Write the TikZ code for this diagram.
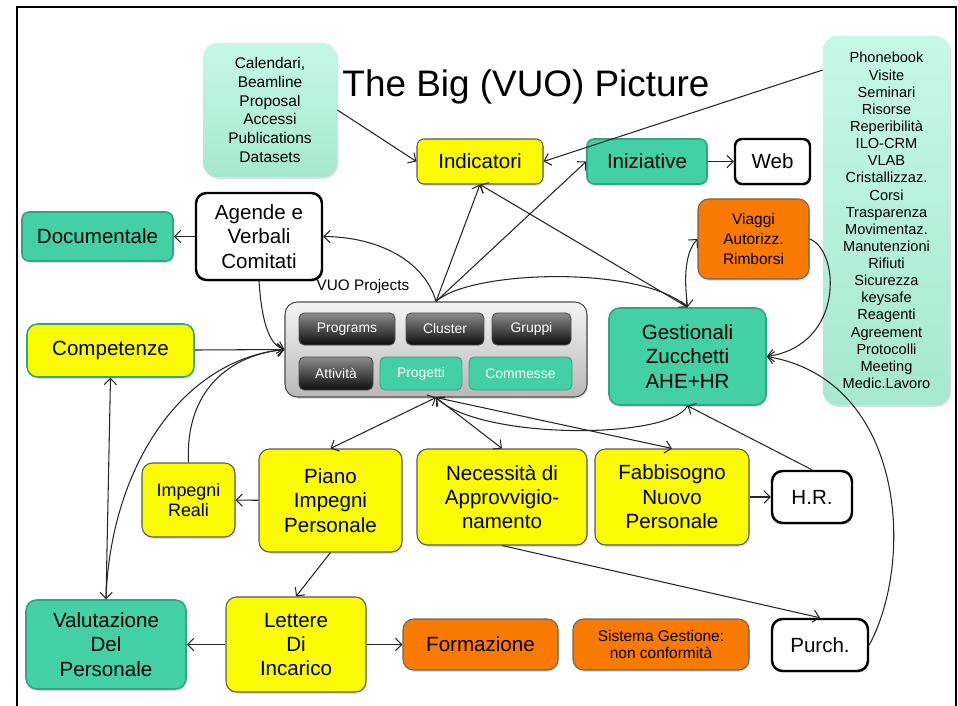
\documentclass[tikz,border=0pt]{standalone}
\usepackage{fontspec}
\setmainfont{Liberation Sans}
\usetikzlibrary{arrows.meta, shadows}
\definecolor{vyellow}{RGB}{250,250,0}
\definecolor{vgreen}{RGB}{66,208,164}
\definecolor{vgreenline}{RGB}{50,165,128}
\definecolor{vorange}{RGB}{249,122,0}
\definecolor{vmintA}{RGB}{198,248,231}
\definecolor{vmintB}{RGB}{166,232,208}

\tikzset{
  sz/.style 2 args={minimum width=#1*0.02cm, minimum height=#2*0.02cm},
  basebox/.style={rounded corners=6pt, align=center, inner sep=1pt,
        font=\fontsize{11.7}{13.9}\selectfont,
        drop shadow={opacity=0.25, shadow xshift=0.6pt, shadow yshift=-1pt}},
  ybox/.style={basebox, fill=vyellow, draw=black!65, line width=0.6pt},
  gbox/.style={basebox, fill=vgreen, draw=vgreenline, line width=0.9pt},
  obox/.style={basebox, fill=vorange, draw=black!60, line width=0.6pt},
  wbox/.style={basebox, fill=white, draw=black, line width=1.4pt},
  mbox/.style={basebox, top color=vmintA, bottom color=vmintB, draw=none,
        rounded corners=8pt},
  btn/.style={rounded corners=3pt, align=center, draw=black!70, line width=0.5pt,
        top color=black!45, bottom color=black!95, text=white,
        font=\fontsize{7.9}{9}\selectfont},
  gbtn/.style={btn, top color=vgreen, bottom color=vgreen, draw=vgreenline},
  link/.style={line width=0.6pt, black!85}
}

\begin{document}
\begin{tikzpicture}[x=0.02cm, y=-0.02cm, >={Straight Barb[length=3.5pt,width=7pt]}]
    \useasboundingbox (0,0) rectangle (958,706);
    % slide frame
    \draw[line width=1.1pt] (17,706) -- (17,7) -- (956,7) -- (956,706);
    \node (title) at (526,87) {\fontsize{21}{25}\selectfont The Big (VUO) Picture};
    % top row
    \node[mbox, sz={134}{134}, font=\fontsize{8.8}{10.6}\selectfont] (cal) at (270,110)
        {Calendari,\\Beamline\\Proposal\\Accessi\\Publications\\Datasets};
    \node[ybox, sz={126}{45}, rounded corners=4pt] (ind) at (480,161.5) {Indicatori};
    \node[gbox, sz={120}{45}, rounded corners=4pt] (ini) at (647,161.5) {Iniziative};
    \node[wbox, sz={75}{45}, rounded corners=4pt] (web) at (772.5,161.5) {Web};
    \node[mbox, sz={127}{369}, font=\fontsize{8.3}{9.75}\selectfont] (lst) at (886.5,220.5)
        {Phonebook\\Visite\\Seminari\\Risorse\\Reperibilità\\ILO-CRM\\VLAB\\Cristallizzaz.\\Corsi\\Trasparenza\\Movimentaz.\\Manutenzioni\\Rifiuti\\Sicurezza\\keysafe\\Reagenti\\Agreement\\Protocolli\\Meeting\\Medic.Lavoro};
    \node[gbox, sz={151}{49}, rounded corners=4pt] (doc) at (97.5,236.5) {Documentale};
    \node[wbox, sz={126}{87}] (age) at (259,236.5) {Agende e\\Verbali\\Comitati};
    \node[obox, sz={111}{80}, font=\fontsize{8.8}{11.4}\selectfont] (via) at (753.5,239)
        {Viaggi\\Autorizz.\\Rimborsi};
    % VUO projects
    \node[font=\fontsize{8.7}{10}\selectfont] (vuolab) at (363,287) {VUO Projects};
    \node[basebox, sz={302}{95}, rounded corners=7pt, top color=black!4, bottom color=black!28,
        draw=black!70, line width=0.6pt] (vuo) at (436,349.5) {};
    \node[btn, sz={96}{32}] (prg) at (347,329) {Programs};
    \node[btn, sz={78}{32}] (clu) at (445,329) {Cluster};
    \node[btn, sz={79}{32}] (gru) at (531.5,329) {Gruppi};
    \node[btn, sz={74}{33}] (att) at (336,373.5) {Attività};
    \node[gbtn, sz={82}{33}] (pro) at (421,373.5) {Progetti};
    \node[gbtn, sz={103}{33}] (com) at (520.5,373.5) {Commesse};
    \node[gbox, sz={157}{97}] (ges) at (687.5,356.5) {Gestionali\\Zucchetti\\AHE+HR};
    \node[ybox, sz={167}{53}, draw=vgreenline, line width=0.9pt] (cmp) at (110.5,350.5) {Competenze};
    % middle row
    \node[ybox, sz={93}{74}, font=\fontsize{10.2}{11.4}\selectfont] (imr) at (188.5,500) {Impegni\\Reali};
    \node[ybox, sz={143}{103}] (pia) at (330.5,500.5) {Piano\\Impegni\\Personale};
    \node[ybox, sz={170}{96}] (nec) at (502,497) {Necessità di\\Approvvigio-\\namento};
    \node[ybox, sz={154}{96}] (fab) at (672,497) {Fabbisogno\\Nuovo\\Personale};
    \node[wbox, sz={80}{52}] (hr) at (812,497) {H.R.};
    % bottom row
    \node[gbox, sz={160}{89}] (val) at (106,644.5) {Valutazione\\Del\\Personale};
    \node[ybox, sz={140}{95}] (let) at (296,644.5) {Lettere\\Di\\Incarico};
    \node[obox, sz={155}{51}] (for) at (480.5,644.5) {Formazione};
    \node[obox, sz={176}{51}, font=\fontsize{8.8}{9.7}\selectfont] (sis) at (661,644.5)
        {Sistema Gestione:\\non conformità};
    \node[wbox, sz={96}{52}] (pur) at (820,645) {Purch.};
    % connectors
    \draw[link,->] (cal.east) -- (ind.west);
    \draw[link,->] (lst.113) -- (ind.east);
    \draw[link,->] (ini) -- (web);
    \draw[link,->] (vuo.north) -- (ind.south);
    \draw[link,->] (vuo.north) -- (ini.west);
    \draw[link,->] (vuo.north) .. controls (425,262) and (380,237) .. (age.east);
    \draw[link,->] (age) -- (doc);
    \draw[link,->] (age.south) .. controls (262,325) and (270,345) .. (vuo.west);
    \draw[link,->] (cmp) -- (vuo.west);
    \draw[link,->] (imr.north) .. controls (185,390) and (230,355) .. (vuo.west);
    \draw[link,->] (val.north) .. controls (110,470) and (180,360) .. (vuo.west);
    \draw[link,<->] (cmp.south) -- (val.north);
    \draw[link,->] (vuo.north) .. controls (470,270) and (640,265) .. (ges.north);
    \draw[link,<-] (ind.south) -- (ges.north);
    \draw[link,<->] (via.west) .. controls (683,255) and (685,285) .. (ges.north);
    \draw[link,->] (via.east) .. controls (840,250) and (845,345) .. (ges.east);
    \draw[link,->] (pur.east) .. controls (915,560) and (905,380) .. (ges.east);
    \draw[link,->] (hr.north) -- (ges.south);
    \draw[link,->] (fab) -- (hr);
    \draw[link,<->] (vuo.south) -- (pia.north);
    \draw[link,<->] (vuo.south) -- (nec.north);
    \draw[link,->] (vuo.south) -- (fab.north);
    \draw[link,->] (ges.south) .. controls (670,440) and (480,440) .. (vuo.south);
    \draw[link,->] (nec.south) -- (pur.north);
    \draw[link,->] (pia) -- (imr);
    \draw[link,->] (pia.south) -- (let.north);
    \draw[link,->] (let) -- (val);
    \draw[link,->] (let) -- (for);
\end{tikzpicture}
\end{document}
